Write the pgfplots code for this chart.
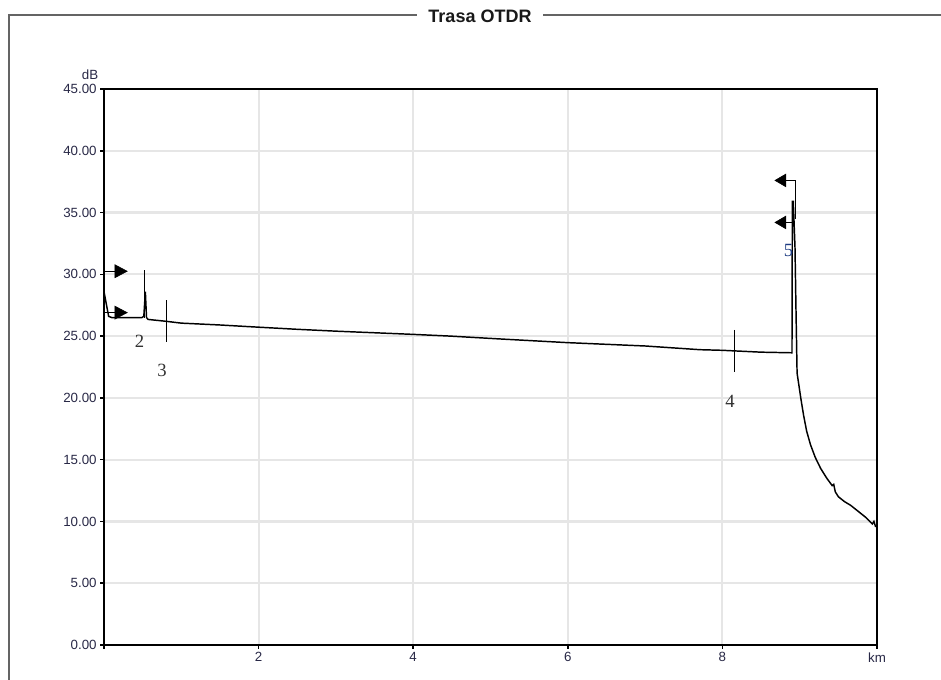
\documentclass[border=0pt]{standalone}
\usepackage{fontspec}
\setmainfont{Liberation Sans}
\newfontfamily\serifnum{Liberation Serif}
\usepackage{pgfplots}
\pgfplotsset{compat=1.18}
\definecolor{ticktxt}{RGB}{40,40,70}
\definecolor{gridc}{RGB}{230,230,230}
\definecolor{framec}{RGB}{100,100,100}
\definecolor{mklbl}{RGB}{50,50,50}
\definecolor{mkblue}{RGB}{30,60,130}
\begin{document}
\begin{tikzpicture}
\useasboundingbox (-78pt,-26.25pt) rectangle (627.75pt,483.75pt);
% frame
\draw[framec, line width=1.1pt] (-71.25pt,-30pt) -- (-71.25pt,472.5pt) -- (234.75pt,472.5pt);
\draw[framec, line width=1.1pt] (329.25pt,472.5pt) -- (630pt,472.5pt);
\node[font=\bfseries\fontsize{13.5}{15}\selectfont, text=black!90] at (282pt,471.5pt) {Trasa OTDR};
\begin{axis}[
  scale only axis,
  width=579.75pt, height=417pt,
  xmin=0, xmax=10, ymin=0, ymax=45,
  xtick={0,2,4,6,8,10}, xticklabels={,2,4,6,8,km},
  ytick={0,5,10,15,20,25,30,35,40,45},
  yticklabel={\pgfmathprintnumber[fixed,fixed zerofill,precision=2]{\tick}},
  /pgf/number format/assume math mode=true,
  tick label style={font=\fontsize{10}{12}\selectfont, text=ticktxt},
  grid=major,
  major grid style={gridc, line width=1.6pt},
  axis line style={black, line width=2pt},
  tick align=outside,
  major tick length=3pt,
  tick style={black, line width=1.2pt},
  xtick pos=bottom, ytick pos=left,
  yticklabel style={xshift=1pt},
  xticklabel style={yshift=1pt},
  clip=false,
]
% trace
\addplot[black, line width=1.1pt] coordinates {
(0,28.6) (0.03,27.6) (0.06,26.6) (0.1,26.5) (0.49,26.5) (0.515,26.6) (0.535,28.6) (0.55,26.5)
(0.57,26.35) (0.8,26.2) (1.0,26.05) (1.5,25.9) (1.89,25.76) (2.5,25.55) (3.0,25.4)
(4.0,25.14) (4.48,25.0) (5.12,24.77) (6.0,24.47) (7.0,24.2) (7.71,23.9) (8.0,23.85)
(8.5,23.7) (8.9,23.65) (8.905,35.9) (8.917,35.9) (8.939,32.2) (8.952,27.1) (8.966,22.0)
(8.99,21.0) (9.016,19.9) (9.05,18.6) (9.09,17.3) (9.14,16.2) (9.2,15.2) (9.27,14.3)
(9.35,13.5) (9.42,12.9) (9.44,13.0)
(9.46,12.4) (9.5,12.0) (9.58,11.6) (9.66,11.3) (9.72,11.0) (9.78,10.7) (9.85,10.35)
(9.91,9.98) (9.94,9.8) (9.96,10.0) (9.98,9.6) (10.0,9.6)
};
% marker 1 arrows
\addplot[black, line width=0.8pt] coordinates {(0,30.25) (0.14,30.25)};
\addplot[black, fill=black] coordinates {(0.14,30.78) (0.30,30.25) (0.14,29.72)} -- cycle;
\addplot[black, line width=0.8pt] coordinates {(0,26.9) (0.14,26.9)};
\addplot[black, fill=black] coordinates {(0.14,27.43) (0.30,26.9) (0.14,26.37)} -- cycle;
% marker 2
\addplot[black, line width=0.7pt] coordinates {(0.52,26.5) (0.52,30.35)};
% marker 3
\addplot[black, line width=0.7pt] coordinates {(0.81,27.9) (0.81,24.55)};
% marker 4
\addplot[black, line width=0.7pt] coordinates {(8.16,25.5) (8.16,22.1)};
% marker 5 arrows
\addplot[black, line width=0.8pt] coordinates {(8.82,37.6) (8.94,37.6) (8.94,34.5)};
\addplot[black, fill=black] coordinates {(8.82,38.11) (8.68,37.6) (8.82,37.09)} -- cycle;
\addplot[black, line width=0.8pt] coordinates {(8.82,34.2) (8.94,34.2)};
\addplot[black, fill=black] coordinates {(8.82,34.71) (8.68,34.2) (8.82,33.69)} -- cycle;
% labels
\node[font=\serifnum\fontsize{14}{16}\selectfont, text=mklbl] at (axis cs:0.46,24.6) {2};
\node[font=\serifnum\fontsize{14}{16}\selectfont, text=mklbl] at (axis cs:0.75,22.2) {3};
\node[font=\serifnum\fontsize{14}{16}\selectfont, text=mklbl] at (axis cs:8.1,19.75) {4};
\node[font=\serifnum\fontsize{14}{16}\selectfont, text=mkblue] at (axis cs:8.855,31.9) {5};
\node[font=\fontsize{10}{12}\selectfont, text=ticktxt] at (rel axis cs:0,1) [xshift=-10.5pt, yshift=10.5pt] {dB};
\end{axis}
\end{tikzpicture}
\end{document}
